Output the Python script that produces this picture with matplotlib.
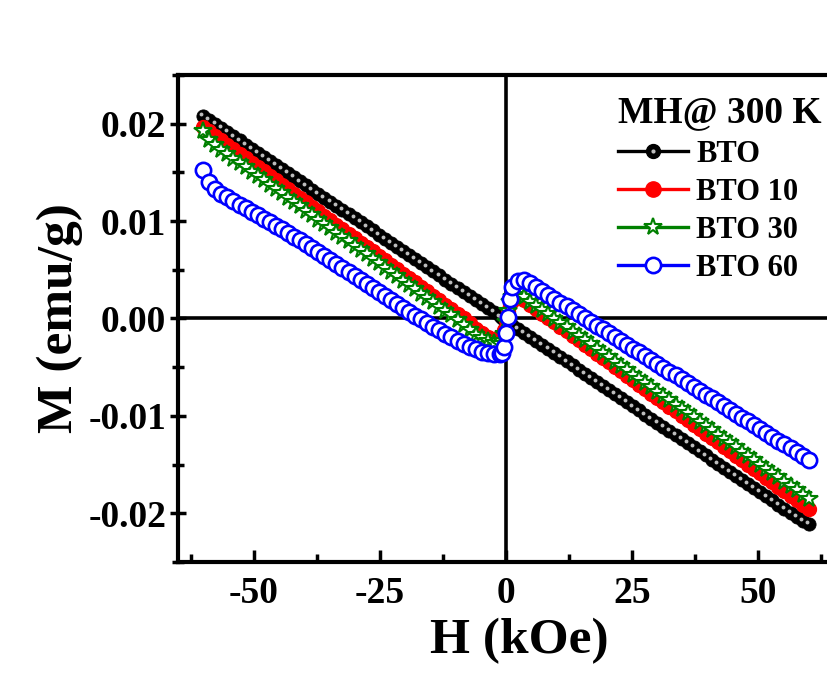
import matplotlib
matplotlib.use("Agg")
import matplotlib.pyplot as plt
from matplotlib.legend_handler import HandlerTuple
from matplotlib.lines import Line2D
from matplotlib.ticker import FormatStrFormatter, MultipleLocator
from matplotlib.transforms import ScaledTranslation

plt.rcParams["font.family"] = ["Liberation Serif", "DejaVu Serif"]
plt.rcParams["font.weight"] = "bold"
plt.rcParams["axes.labelweight"] = "bold"
plt.rcParams["axes.unicode_minus"] = False

# field (kOe), one sweep
H = [-60.0, -58.8, -57.6, -56.4, -55.2, -54.0, -52.8, -51.6, -50.4, -49.2,
     -48.0, -46.8, -45.6, -44.4, -43.2, -42.0, -40.8, -39.6, -38.4, -37.2,
     -36.0, -34.8, -33.6, -32.4, -31.2, -30.0, -28.8, -27.6, -26.4, -25.2,
     -24.0, -22.8, -21.6, -20.4, -19.2, -18.0, -16.8, -15.6, -14.4, -13.2,
     -12.0, -10.8, -9.6, -8.4, -7.2, -6.0, -4.8, -3.6, -2.4, -1.2,
     -0.8, -0.4, 0.0, 0.4, 0.8,
     1.2, 2.4, 3.6, 4.8, 6.0, 7.2, 8.4, 9.6, 10.8, 12.0,
     13.2, 14.4, 15.6, 16.8, 18.0, 19.2, 20.4, 21.6, 22.8, 24.0,
     25.2, 26.4, 27.6, 28.8, 30.0, 31.2, 32.4, 33.6, 34.8, 36.0,
     37.2, 38.4, 39.6, 40.8, 42.0, 43.2, 44.4, 45.6, 46.8, 48.0,
     49.2, 50.4, 51.6, 52.8, 54.0, 55.2, 56.4, 57.6, 58.8, 60.0]

# magnetisation (emu/g)
BTO = [0.02080, 0.02038, 0.01996, 0.01954, 0.01912, 0.01870, 0.01828, 0.01786, 0.01744, 0.01702,
       0.01660, 0.01618, 0.01576, 0.01534, 0.01492, 0.01450, 0.01408, 0.01366, 0.01324, 0.01282,
       0.01240, 0.01198, 0.01156, 0.01114, 0.01072, 0.01030, 0.00988, 0.00946, 0.00904, 0.00862,
       0.00820, 0.00778, 0.00736, 0.00694, 0.00652, 0.00610, 0.00568, 0.00526, 0.00484, 0.00442,
       0.00400, 0.00358, 0.00316, 0.00274, 0.00232, 0.00190, 0.00148, 0.00106, 0.00064, 0.00022,
       0.00008, -0.00006, -0.00020, -0.00034, -0.00048,
       -0.00062, -0.00104, -0.00146, -0.00188, -0.00230, -0.00272, -0.00314, -0.00356, -0.00398, -0.00440,
       -0.00482, -0.00524, -0.00566, -0.00608, -0.00650, -0.00692, -0.00734, -0.00776, -0.00818, -0.00860,
       -0.00902, -0.00944, -0.00986, -0.01028, -0.01070, -0.01112, -0.01154, -0.01196, -0.01238, -0.01280,
       -0.01322, -0.01364, -0.01406, -0.01448, -0.01490, -0.01532, -0.01574, -0.01616, -0.01658, -0.01700,
       -0.01742, -0.01784, -0.01826, -0.01868, -0.01910, -0.01952, -0.01994, -0.02036, -0.02078, -0.02110]

BTO10 = [0.01966, 0.01920, 0.01875, 0.01829, 0.01784, 0.01738, 0.01692, 0.01647, 0.01601, 0.01556,
         0.01510, 0.01464, 0.01419, 0.01373, 0.01328, 0.01282, 0.01236, 0.01191, 0.01145, 0.01100,
         0.01054, 0.01008, 0.00963, 0.00917, 0.00872, 0.00826, 0.00780, 0.00735, 0.00689, 0.00644,
         0.00598, 0.00552, 0.00507, 0.00461, 0.00416, 0.00370, 0.00324, 0.00279, 0.00233, 0.00188,
         0.00142, 0.00096, 0.00051, 0.00005, -0.00050, -0.00105, -0.00150, -0.00188, -0.00210, -0.00215,
         -0.00190, -0.00120, -0.00020, 0.00080, 0.00150,
         0.00180, 0.00210, 0.00187, 0.00142, 0.00096, 0.00050, 0.00005, -0.00041, -0.00086, -0.00132,
         -0.00178, -0.00223, -0.00269, -0.00314, -0.00360, -0.00406, -0.00451, -0.00497, -0.00542, -0.00588,
         -0.00634, -0.00679, -0.00725, -0.00770, -0.00816, -0.00862, -0.00907, -0.00953, -0.00998, -0.01044,
         -0.01090, -0.01135, -0.01181, -0.01226, -0.01272, -0.01318, -0.01363, -0.01409, -0.01454, -0.01500,
         -0.01546, -0.01591, -0.01637, -0.01682, -0.01728, -0.01774, -0.01819, -0.01865, -0.01910, -0.01956]

BTO30 = [0.01920, 0.01830, 0.01776, 0.01732, 0.01687, 0.01642, 0.01597, 0.01553, 0.01508, 0.01463,
         0.01418, 0.01374, 0.01329, 0.01284, 0.01239, 0.01195, 0.01150, 0.01105, 0.01060, 0.01016,
         0.00971, 0.00926, 0.00881, 0.00837, 0.00792, 0.00747, 0.00702, 0.00658, 0.00613, 0.00568,
         0.00523, 0.00479, 0.00434, 0.00389, 0.00344, 0.00300, 0.00255, 0.00210, 0.00165, 0.00120,
         0.00076, 0.00031, -0.00014, -0.00070, -0.00120, -0.00165, -0.00205, -0.00235, -0.00255, -0.00260,
         -0.00235, -0.00160, -0.00040, 0.00080, 0.00170,
         0.00220, 0.00245, 0.00218, 0.00174, 0.00130, 0.00086, 0.00042, -0.00002, -0.00046, -0.00090,
         -0.00134, -0.00178, -0.00222, -0.00266, -0.00311, -0.00355, -0.00399, -0.00443, -0.00487, -0.00531,
         -0.00575, -0.00619, -0.00663, -0.00707, -0.00751, -0.00795, -0.00839, -0.00883, -0.00927, -0.00971,
         -0.01015, -0.01059, -0.01103, -0.01147, -0.01191, -0.01235, -0.01279, -0.01324, -0.01368, -0.01412,
         -0.01456, -0.01500, -0.01544, -0.01588, -0.01632, -0.01676, -0.01720, -0.01764, -0.01808, -0.01852]

BTO60 = [0.01520, 0.01400, 0.01330, 0.01280, 0.01243, 0.01207, 0.01170, 0.01134, 0.01097, 0.01060,
         0.01024, 0.00987, 0.00951, 0.00914, 0.00877, 0.00841, 0.00804, 0.00767, 0.00726, 0.00685,
         0.00644, 0.00603, 0.00562, 0.00521, 0.00480, 0.00439, 0.00398, 0.00357, 0.00316, 0.00275,
         0.00234, 0.00193, 0.00152, 0.00111, 0.00070, 0.00029, -0.00010, -0.00047, -0.00084, -0.00121,
         -0.00158, -0.00195, -0.00230, -0.00262, -0.00292, -0.00318, -0.00340, -0.00356, -0.00366, -0.00365,
         -0.00350, -0.00290, -0.00150, 0.00020, 0.00200,
         0.00320, 0.00385, 0.00392, 0.00360, 0.00321, 0.00281, 0.00242, 0.00203, 0.00163, 0.00124,
         0.00085, 0.00045, 0.00006, -0.00033, -0.00073, -0.00112, -0.00151, -0.00191, -0.00230, -0.00269,
         -0.00309, -0.00348, -0.00387, -0.00427, -0.00466, -0.00505, -0.00545, -0.00584, -0.00623, -0.00663,
         -0.00702, -0.00741, -0.00781, -0.00820, -0.00859, -0.00899, -0.00938, -0.00977, -0.01017, -0.01056,
         -0.01095, -0.01135, -0.01174, -0.01213, -0.01253, -0.01292, -0.01331, -0.01371, -0.01410, -0.01449]

LABELS = ["BTO", "BTO 10", "BTO 30", "BTO 60"]
TITLE = "MH@ 300 K"

GREEN = "#008000"
SHINE = "#bdbdbd"


def main():
    fig = plt.figure(figsize=(8.27, 6.73), dpi=100)
    ax = fig.add_axes([0.2152, 0.1649, 0.7932, 0.7237])

    ax.axhline(0, color="black", lw=2.6, zorder=1)
    ax.axvline(0, color="black", lw=2.6, zorder=1)

    # black "ball" markers: dark bead plus small highlight shifted up-left
    ax.plot(H, BTO, color="black", lw=2, marker="o", ms=9.5, mfc="black",
            mec="black", mew=0.6, zorder=2)
    shine = ax.transData + ScaledTranslation(-1.3 / 72, 1.3 / 72, fig.dpi_scale_trans)
    ax.plot(H, BTO, ls="none", marker="o", ms=2.8, mfc=SHINE, mec="none",
            transform=shine, zorder=2.1)
    ax.plot(H, BTO10, color="red", lw=2, marker="o", ms=10, mfc="red",
            mec="red", zorder=3)
    ax.plot(H, BTO30, color=GREEN, lw=2, marker="*", ms=13, mfc="white",
            mec=GREEN, mew=1.5, zorder=4)
    ax.plot(H, BTO60, color="blue", lw=2, marker="o", ms=11, mfc="white",
            mec="blue", mew=1.9, zorder=5)

    ax.set_xlim(-65, 65)
    ax.set_ylim(-0.025, 0.025)
    ax.xaxis.set_major_locator(MultipleLocator(25))
    ax.xaxis.set_minor_locator(MultipleLocator(12.5))
    ax.yaxis.set_major_locator(MultipleLocator(0.01))
    ax.yaxis.set_minor_locator(MultipleLocator(0.005))
    ax.xaxis.set_major_formatter(FormatStrFormatter("%d"))
    ax.yaxis.set_major_formatter(FormatStrFormatter("%.2f"))

    for side in ["left", "bottom", "top", "right"]:
        ax.spines[side].set_linewidth(3)
    ax.tick_params(axis="x", which="both", direction="in", top=False,
                   width=2.5, labelsize=27, pad=10)
    ax.tick_params(axis="x", which="major", length=9)
    ax.tick_params(axis="x", which="minor", length=6)
    ax.tick_params(axis="y", which="both", direction="inout", right=False,
                   width=2.5, labelsize=27, pad=3)
    ax.tick_params(axis="y", which="major", length=11)
    ax.tick_params(axis="y", which="minor", length=9)

    ax.set_xlabel("H (kOe)", fontsize=37, labelpad=2)
    ax.xaxis.set_label_coords(0.52, -0.115)
    ax.set_ylabel("M (emu/g)", fontsize=37, labelpad=4)

    handles = [
        (Line2D([], [], color="black", lw=2.4, marker="o", ms=10, mfc="black", mec="black"),
         Line2D([], [], ls="none", marker="o", ms=3, mfc=SHINE, mec="none")),
        Line2D([], [], color="red", lw=2.4, marker="o", ms=11, mfc="red", mec="red"),
        Line2D([], [], color=GREEN, lw=2.4, marker="*", ms=13, mfc="white", mec=GREEN, mew=1.5),
        Line2D([], [], color="blue", lw=2.4, marker="o", ms=11, mfc="white", mec="blue", mew=1.9),
    ]
    ax.legend(handles, LABELS, handler_map={tuple: HandlerTuple(ndivide=1, pad=0)},
              title=TITLE, title_fontproperties={"weight": "bold", "size": 27},
              loc="upper left", bbox_to_anchor=(0.729, 0.881),
              bbox_transform=fig.transFigure, frameon=False, fontsize=22,
              handlelength=2.3, handletextpad=0.25, labelspacing=0.3,
              borderpad=0, alignment="left", numpoints=1)

    fig.savefig("out.png", dpi=100)
    plt.close(fig)


if __name__ == "__main__":
    main()
